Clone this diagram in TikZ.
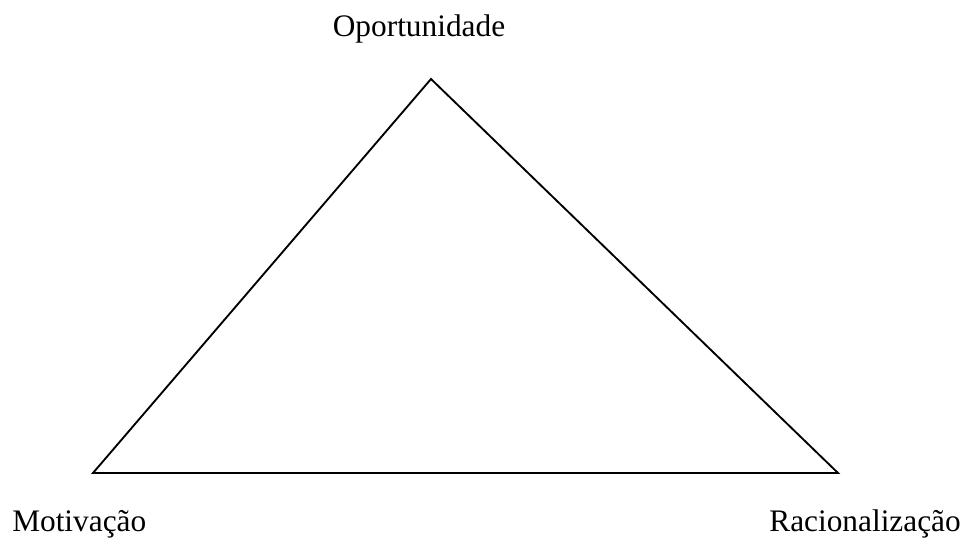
\documentclass[tikz,border=0pt]{standalone}
\usepackage{fontspec}
\setmainfont{Liberation Serif}
\begin{document}
\begin{tikzpicture}[x=0.75pt,y=-0.75pt,
  lbl/.style={inner sep=0pt,font=\fontsize{23.5pt}{28pt}\selectfont},
  edge/.style={draw=black,line width=1.4pt,line join=miter}]
\useasboundingbox (0,0) rectangle (963,540);
\coordinate (top) at (431,79);
\coordinate (bl) at (93,473);
\coordinate (br) at (838,473);
\draw[edge] (top) -- (bl) -- (br) -- cycle;
\node[lbl,anchor=base] (op) at (419,36) {Oportunidade};
\node[lbl,anchor=base west] (mo) at (12,531) {Motivação};
\node[lbl,anchor=base east] (ra) at (961,531) {Racionalização};
\end{tikzpicture}
\end{document}
